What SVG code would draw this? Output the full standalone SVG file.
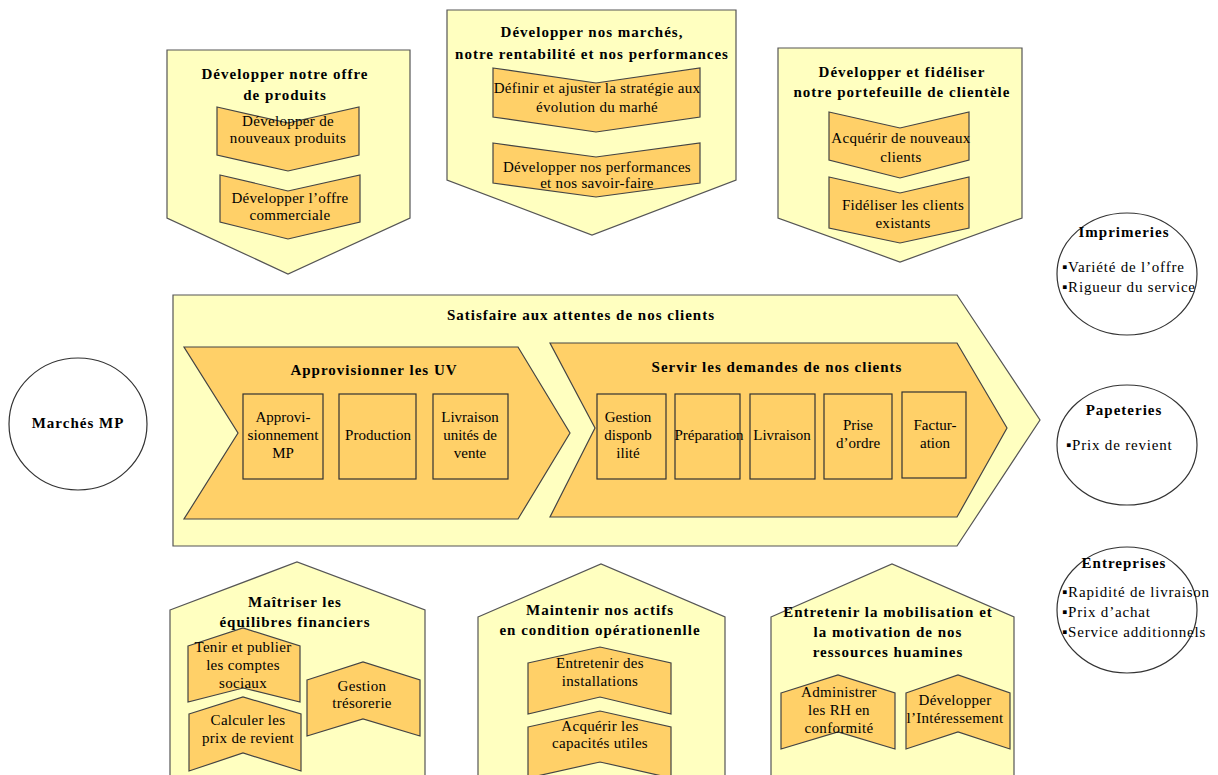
<svg xmlns="http://www.w3.org/2000/svg" width="1218" height="775" viewBox="0 0 1218 775" font-family="'Liberation Serif', 'DejaVu Serif', serif">
<style>
.outer{fill:#FFFFC0;stroke:#555;stroke-width:1.2}
.inner{fill:#FFD068;stroke:#444;stroke-width:1.2}
.box{fill:#FFD068;stroke:#333;stroke-width:1.2}
.circ{fill:#fff;stroke:#333;stroke-width:1.2}
text{font-family:'Liberation Serif','DejaVu Serif',serif;fill:#000}
.t{font-size:15px;font-weight:bold;text-anchor:middle;letter-spacing:1px}
.r{font-size:15px;text-anchor:middle;letter-spacing:0.3px}
.b{font-size:15px;text-anchor:middle}
.l{font-size:15px;letter-spacing:0.8px}
</style>
<rect width="1218" height="775" fill="#fff"/>

<g id="offre-produits">
<polygon class="outer" points="167,50 410,50 410,218 288,274 167,218"/>
<text class="t" x="285" y="79">Développer notre offre</text>
<text class="t" x="285" y="100">de produits</text>
<polygon class="inner" points="217,107 288,123 359,107 359,155 288,171 217,155"/>
<text class="r" x="288" y="126">Développer de</text>
<text class="r" x="288" y="143">nouveaux  produits</text>
<polygon class="inner" points="220,175 288,191 360,175 360,222 288,239 220,222"/>
<text class="r" x="290" y="203">Développer  l’offre</text>
<text class="r" x="290" y="220">commerciale</text>
</g>

<g id="marches-rentabilite">
<polygon class="outer" points="447,10 736,10 736,180 592,235 447,180"/>
<text class="t" x="592" y="37">Développer nos marchés,</text>
<text class="t" x="592" y="59">notre rentabilité et nos performances</text>
<polygon class="inner" points="493,68 596,83 700,68 700,117 596,132 493,117"/>
<text class="r" x="597" y="93">Définir et ajuster la  stratégie aux</text>
<text class="r" x="597" y="112">évolution du marhé</text>
<polygon class="inner" points="493,143 596,157 700,143 700,183 596,197 493,183"/>
<text class="r" x="597" y="172">Développer  nos performances</text>
<text class="r" x="597" y="188">et nos savoir-faire</text>
</g>

<g id="portefeuille-clientele">
<polygon class="outer" points="778,48 1022,48 1022,218 900,262 778,218"/>
<text class="t" x="902" y="77">Développer et fidéliser</text>
<text class="t" x="902" y="97">notre portefeuille de clientèle</text>
<polygon class="inner" points="829,112 900,128 969,112 969,160 900,178 829,160"/>
<text class="r" x="901" y="143">Acquérir de nouveaux</text>
<text class="r" x="901" y="162">clients</text>
<polygon class="inner" points="829,177 900,193 969,177 969,228 900,243 829,228"/>
<text class="r" x="903" y="210">Fidéliser les clients</text>
<text class="r" x="903" y="228">existants</text>
</g>

<g id="satisfaire">
<polygon class="outer" points="173,295 957,295 1040,420 957,546 173,546"/>
<text class="t" x="581" y="320">Satisfaire aux attentes de nos clients</text>
</g>

<g id="approvisionner">
<polygon class="inner" points="184,347 518,347 570,433 518,519 184,519 238,433"/>
<text class="t" x="374" y="375">Approvisionner les UV</text>
<rect class="box" x="243" y="394" width="80" height="85"/>
<text class="b" x="283" y="422">Approvi-</text>
<text class="b" x="283" y="440" textLength="71" lengthAdjust="spacingAndGlyphs">sionnement</text>
<text class="b" x="283" y="458">MP</text>
<rect class="box" x="339" y="394" width="77" height="85"/>
<text class="b" x="378" y="440">Production</text>
<rect class="box" x="433" y="394" width="75" height="85"/>
<text class="b" x="470" y="422">Livraison</text>
<text class="b" x="470" y="440">unités de</text>
<text class="b" x="470" y="458">vente</text>
</g>

<g id="servir">
<polygon class="inner" points="550,343 957,343 1007,428 957,517 550,517 595,428"/>
<text class="t" x="777" y="372">Servir les demandes de  nos clients</text>
<rect class="box" x="597" y="394" width="69" height="85"/>
<text class="b" x="628" y="422">Gestion</text>
<text class="b" x="628" y="440">disponb</text>
<text class="b" x="628" y="458">ilité</text>
<rect class="box" x="675" y="394" width="65" height="85"/>
<text class="b" x="709" y="440">Préparation</text>
<rect class="box" x="750" y="394" width="65" height="85"/>
<text class="b" x="782" y="440">Livraison</text>
<rect class="box" x="824" y="394" width="68" height="85"/>
<text class="b" x="858" y="430">Prise</text>
<text class="b" x="858" y="448">d’ordre</text>
<rect class="box" x="902" y="392" width="64" height="86"/>
<text class="b" x="935" y="430">Factur-</text>
<text class="b" x="935" y="448">ation</text>
</g>

<g id="marches-mp">
<ellipse class="circ" cx="78" cy="424" rx="69" ry="66"/>
<text class="t" x="78" y="428">Marchés MP</text>
</g>

<g id="imprimeries">
<ellipse class="circ" cx="1127" cy="274" rx="70" ry="61"/>
<text class="t" x="1124" y="237">Imprimeries</text>
<text class="l" x="1062" y="272">▪Variété de l’offre</text>
<text class="l" x="1062" y="292">▪Rigueur du service</text>
</g>

<g id="papeteries">
<ellipse class="circ" cx="1127" cy="445" rx="70" ry="60"/>
<text class="t" x="1124" y="415">Papeteries</text>
<text class="l" x="1066" y="450">▪Prix de revient</text>
</g>

<g id="entreprises">
<ellipse class="circ" cx="1127" cy="610" rx="70" ry="63"/>
<text class="t" x="1124" y="568">Entreprises</text>
<text class="l" x="1062" y="597">▪Rapidité de livraison</text>
<text class="l" x="1062" y="617">▪Prix d’achat</text>
<text class="l" x="1062" y="637">▪Service additionnels</text>
</g>

<g id="equilibres-financiers">
<polygon class="outer" points="170,610 297,562 425,610 425,790 170,790"/>
<text class="t" x="295" y="607">Maîtriser les</text>
<text class="t" x="295" y="627">équilibres financiers</text>
<polygon class="inner" points="188,646 243,628 300,646 300,702 243,688 188,702"/>
<text class="r" x="243" y="652">Tenir et publier</text>
<text class="r" x="243" y="670">les comptes</text>
<text class="r" x="243" y="688">sociaux</text>
<polygon class="inner" points="189,714 243,697 301,714 301,771 243,753 189,771"/>
<text class="r" x="248" y="725">Calculer les</text>
<text class="r" x="248" y="743">prix de revient</text>
<polygon class="inner" points="307,680 363,662 420,680 420,736 363,719 307,736"/>
<text class="r" x="362" y="691">Gestion</text>
<text class="r" x="362" y="708">trésorerie</text>
</g>

<g id="actifs">
<polygon class="outer" points="478,617 601,564 725,617 725,790 478,790"/>
<text class="t" x="600" y="615">Maintenir nos actifs</text>
<text class="t" x="600" y="635">en condition opérationenlle</text>
<polygon class="inner" points="528,663 600,647 671,663 671,714 600,697 528,714"/>
<text class="r" x="600" y="668">Entretenir  des</text>
<text class="r" x="600" y="686">installations</text>
<polygon class="inner" points="528,727 600,711 671,727 671,778 600,762 528,778"/>
<text class="r" x="600" y="731">Acquérir les</text>
<text class="r" x="600" y="748">capacités utiles</text>
</g>

<g id="ressources-humaines">
<polygon class="outer" points="771,617 892,564 1014,617 1014,790 771,790"/>
<text class="t" x="888" y="617">Entretenir la mobilisation et</text>
<text class="t" x="888" y="637">la motivation de  nos</text>
<text class="t" x="888" y="657">ressources huamines</text>
<polygon class="inner" points="781,693 838,675 895,693 895,749 838,732 781,749"/>
<text class="r" x="839" y="697">Administrer</text>
<text class="r" x="839" y="715">les RH en</text>
<text class="r" x="839" y="733">conformité</text>
<polygon class="inner" points="906,693 958,675 1010,693 1010,749 958,732 906,749"/>
<text class="r" x="955" y="705">Développer</text>
<text class="r" x="955" y="723">l’Intéressement</text>
</g>

<g id="connectors"></g>
</svg>
